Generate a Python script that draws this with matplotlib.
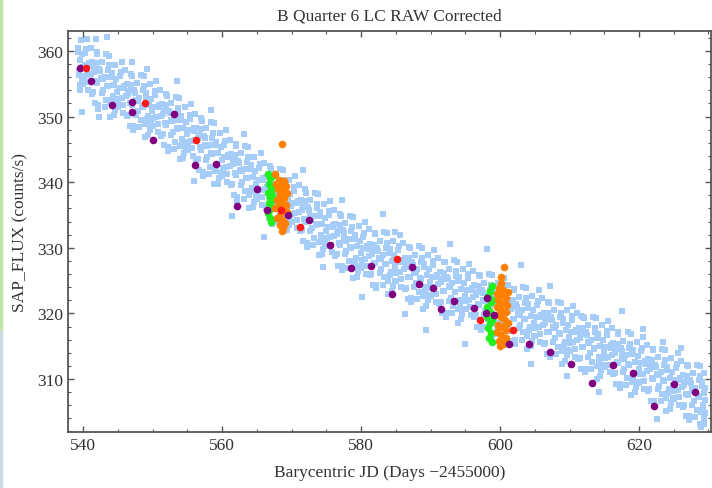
import matplotlib
matplotlib.use("Agg")
import matplotlib.pyplot as plt
from matplotlib.lines import Line2D
from matplotlib.ticker import MultipleLocator

# light blue raw light curve (core of the band)
blue_core = [
    (539.3,360.4),(539.4,356.9),(539.5,358.6),(539.6,354.8),(539.8,359.5),(539.95,357.6),
    (540.05,354.9),(540.25,357.9),(540.4,360.3),(540.55,356.3),(540.75,355.2),(540.9,358.2),
    (541.15,356.5),(541.3,358.3),(541.5,353.7),(541.65,357.3),(541.8,355.4),(541.97,359.9),
    (542.0,355.1),(542.2,351.8),(542.35,357.3),(542.6,355.9),(542.7,358.4),(542.88,354.1),
    (543.12,356.0),(543.28,352.6),(543.47,354.7),(543.62,357.1),(543.78,359.3),(543.93,352.0),
    (544.1,356.6),(544.3,353.1),(544.45,354.8),(544.6,351.0),(544.8,355.7),(544.95,353.8),
    (545.05,351.4),(545.25,354.4),(545.4,356.8),(545.55,352.8),(545.75,351.7),(545.9,354.7),
    (546.15,353.1),(546.3,354.9),(546.5,350.3),(546.65,353.9),(546.8,352.0),(546.97,356.5),
    (547.0,351.8),(547.2,348.5),(547.35,354.0),(547.6,352.6),(547.7,355.1),(547.88,350.8),
    (548.12,352.9),(548.28,349.5),(548.47,351.6),(548.62,354.0),(548.78,356.2),(548.93,348.9),
    (549.1,353.6),(549.3,350.1),(549.45,351.8),(549.6,348.0),(549.8,352.7),(549.95,350.8),
    (550.05,348.5),(550.25,351.5),(550.4,353.9),(550.55,349.9),(550.75,348.8),(550.9,351.8),
    (551.15,350.1),(551.3,351.9),(551.5,347.3),(551.65,350.9),(551.8,349.0),(551.97,353.5),
    (552.0,348.7),(552.2,345.4),(552.35,350.9),(552.6,349.5),(552.7,352.0),(552.88,347.7),
    (553.12,349.5),(553.28,346.1),(553.47,348.2),(553.62,350.6),(553.78,352.8),(553.93,345.5),
    (554.1,350.1),(554.3,346.6),(554.45,348.3),(554.6,344.5),(554.8,349.2),(554.95,347.3),
    (555.05,344.9),(555.25,347.9),(555.4,350.3),(555.55,346.3),(555.75,345.2),(555.9,348.2),
    (556.15,346.4),(556.3,348.2),(556.5,343.6),(556.65,347.2),(556.8,345.3),(556.97,349.8),
    (557.0,344.9),(557.2,341.6),(557.35,347.1),(557.6,345.7),(557.7,348.2),(557.88,343.9),
    (558.12,345.7),(558.28,342.3),(558.47,344.4),(558.62,346.8),(558.78,349.0),(558.93,341.7),
    (559.1,346.2),(559.3,342.7),(559.45,344.4),(559.6,340.6),(559.8,345.3),(559.95,343.4),
    (560.05,340.9),(560.25,343.9),(560.4,346.3),(560.55,342.3),(560.75,341.2),(560.9,344.2),
    (561.15,342.5),(561.3,344.3),(561.5,339.7),(561.65,343.3),(561.8,341.4),(561.97,345.9),
    (562.0,341.1),(562.2,337.8),(562.35,343.3),(562.6,341.9),(562.7,344.4),(562.88,340.1),
    (563.12,342.0),(563.28,338.6),(563.47,340.7),(563.62,343.1),(563.78,345.3),(563.93,338.0),
    (564.1,342.6),(564.3,339.1),(564.45,340.8),(564.6,337.0),(564.8,341.7),(564.95,339.8),
    (565.05,337.4),(565.25,340.4),(565.4,342.8),(565.55,338.8),(565.75,337.7),(565.9,340.7),
    (566.15,339.0),(566.3,340.8),(566.5,336.2),(566.65,339.8),(566.8,337.9),(566.97,342.4),
    (567.0,337.6),(567.2,334.3),(567.35,339.8),(567.6,338.4),(567.7,340.9),(567.88,336.6),
    (568.12,338.5),(568.28,335.1),(568.47,337.2),(568.62,339.6),(568.78,341.8),(568.93,334.5),
    (569.1,339.1),(569.3,335.6),(569.45,337.3),(569.6,333.5),(569.8,338.2),(569.95,336.3),
    (570.05,333.9),(570.25,336.9),(570.4,339.3),(570.55,335.3),(570.75,334.2),(570.9,337.2),
    (571.15,335.5),(571.3,337.3),(571.5,332.7),(571.65,336.3),(571.8,334.4),(571.97,338.9),
    (572.0,334.0),(572.2,330.7),(572.35,336.2),(572.6,334.8),(572.7,337.3),(572.88,333.0),
    (573.12,334.9),(573.28,331.5),(573.47,333.6),(573.62,336.0),(573.78,338.2),(573.93,330.9),
    (574.1,335.4),(574.3,331.9),(574.45,333.6),(574.6,329.8),(574.8,334.5),(574.95,332.6),
    (575.05,330.2),(575.25,333.2),(575.4,335.6),(575.55,331.6),(575.75,330.5),(575.9,333.5),
    (576.15,331.8),(576.3,333.6),(576.5,329.0),(576.65,332.6),(576.8,330.7),(576.97,335.2),
    (577.0,330.5),(577.2,327.2),(577.35,332.7),(577.6,331.3),(577.7,333.8),(577.88,329.5),
    (578.12,331.4),(578.28,328.0),(578.47,330.1),(578.62,332.5),(578.78,334.7),(578.93,327.4),
    (579.1,332.0),(579.3,328.5),(579.45,330.2),(579.6,326.4),(579.8,331.1),(579.95,329.2),
    (580.05,326.9),(580.25,329.9),(580.4,332.3),(580.55,328.3),(580.75,327.2),(580.9,330.2),
    (581.15,328.8),(581.3,330.6),(581.5,326.0),(581.65,329.6),(581.8,327.7),(581.97,332.2),
    (582.0,327.7),(582.2,324.4),(582.35,329.9),(582.6,328.5),(582.7,331.0),(582.88,326.7),
    (583.12,328.9),(583.28,325.5),(583.47,327.6),(583.62,330.0),(583.78,332.2),(583.93,324.9),
    (584.1,329.8),(584.3,326.3),(584.45,328.0),(584.6,324.2),(584.8,328.9),(584.95,327.0),
    (585.05,324.9),(585.25,327.9),(585.4,330.3),(585.55,326.3),(585.75,325.2),(585.9,328.2),
    (586.15,326.7),(586.3,328.5),(586.5,323.9),(586.65,327.5),(586.8,325.6),(586.97,330.1),
    (587.0,325.6),(587.2,322.3),(587.35,327.8),(587.6,326.4),(587.7,328.9),(587.88,324.6),
    (588.12,326.7),(588.28,323.3),(588.47,325.4),(588.62,327.8),(588.78,330.0),(588.93,322.7),
    (589.1,327.6),(589.3,324.1),(589.45,325.8),(589.6,322.0),(589.8,326.7),(589.95,324.8),
    (590.05,322.6),(590.25,325.6),(590.4,328.0),(590.55,324.0),(590.75,322.9),(590.9,325.9),
    (591.15,324.5),(591.3,326.3),(591.5,321.7),(591.65,325.3),(591.8,323.4),(591.97,327.9),
    (592.0,323.4),(592.2,320.1),(592.35,325.6),(592.6,324.2),(592.7,326.7),(592.88,322.4),
    (593.12,324.6),(593.28,321.2),(593.47,323.3),(593.62,325.7),(593.78,327.9),(593.93,320.6),
    (594.1,325.5),(594.3,322.0),(594.45,323.7),(594.6,319.9),(594.8,324.6),(594.95,322.7),
    (595.05,320.6),(595.25,323.6),(595.4,326.0),(595.55,322.0),(595.75,320.9),(595.9,323.9),
    (596.15,322.5),(596.3,324.3),(596.5,319.7),(596.65,323.3),(596.8,321.4),(596.97,325.9),
    (597.0,321.3),(597.2,318.0),(597.35,323.5),(597.6,322.1),(597.7,324.6),(597.88,320.3),
    (598.12,322.5),(598.28,319.1),(598.47,321.2),(598.62,323.6),(598.78,325.8),(598.93,318.5),
    (599.1,323.3),(599.3,319.8),(599.45,321.5),(599.6,317.7),(599.8,322.4),(599.95,320.5),
    (600.05,318.4),(600.25,321.4),(600.4,323.8),(600.55,319.8),(600.75,318.7),(600.9,321.7),
    (601.15,320.3),(601.3,322.1),(601.5,317.5),(601.65,321.1),(601.8,319.2),(601.97,323.7),
    (602.0,319.2),(602.2,315.9),(602.35,321.4),(602.6,320.0),(602.7,322.5),(602.88,318.2),
    (603.12,320.5),(603.28,317.1),(603.47,319.2),(603.62,321.6),(603.78,323.8),(603.93,316.5),
    (604.1,321.4),(604.3,317.9),(604.45,319.6),(604.6,315.8),(604.8,320.5),(604.95,318.6),
    (605.05,316.5),(605.25,319.5),(605.4,321.9),(605.55,317.9),(605.75,316.8),(605.9,319.8),
    (606.15,318.3),(606.3,320.1),(606.5,315.5),(606.65,319.1),(606.8,317.2),(606.97,321.7),
    (607.0,317.2),(607.2,313.9),(607.35,319.4),(607.6,318.0),(607.7,320.5),(607.88,316.2),
    (608.12,318.3),(608.28,314.9),(608.47,317.0),(608.62,319.4),(608.78,321.6),(608.93,314.3),
    (609.1,319.2),(609.3,315.7),(609.45,317.4),(609.6,313.6),(609.8,318.3),(609.95,316.4),
    (610.05,314.2),(610.25,317.2),(610.4,319.6),(610.55,315.6),(610.75,314.5),(610.9,317.5),
    (611.15,316.0),(611.3,317.8),(611.5,313.2),(611.65,316.8),(611.8,314.9),(611.97,319.4),
    (612.0,314.9),(612.2,311.6),(612.35,317.1),(612.6,315.7),(612.7,318.2),(612.88,313.9),
    (613.12,316.0),(613.28,312.6),(613.47,314.7),(613.62,317.1),(613.78,319.3),(613.93,312.0),
    (614.1,316.9),(614.3,313.4),(614.45,315.1),(614.6,311.3),(614.8,316.0),(614.95,314.1),
    (615.05,311.9),(615.25,314.9),(615.4,317.3),(615.55,313.3),(615.75,312.2),(615.9,315.2),
    (616.15,313.7),(616.3,315.5),(616.5,310.9),(616.65,314.5),(616.8,312.6),(616.97,317.1),
    (617.0,312.5),(617.2,309.2),(617.35,314.7),(617.6,313.3),(617.7,315.8),(617.88,311.5),
    (618.12,313.6),(618.28,310.2),(618.47,312.3),(618.62,314.7),(618.78,316.9),(618.93,309.6),
    (619.1,314.4),(619.3,310.9),(619.45,312.6),(619.6,308.8),(619.8,313.5),(619.95,311.6),
    (620.05,309.4),(620.25,312.4),(620.4,314.8),(620.55,310.8),(620.75,309.7),(620.9,312.7),
    (621.15,311.2),(621.3,313.0),(621.5,308.4),(621.65,312.0),(621.8,310.1),(621.97,314.6),
    (622.0,310.0),(622.2,306.7),(622.35,312.2),(622.6,310.8),(622.7,313.3),(622.88,309.0),
    (623.12,311.1),(623.28,307.7),(623.47,309.8),(623.62,312.2),(623.78,314.4),(623.93,307.1),
    (624.1,311.9),(624.3,308.4),(624.45,310.1),(624.6,306.3),(624.8,311.0),(624.95,309.1),
    (625.05,306.9),(625.25,309.9),(625.4,312.3),(625.55,308.3),(625.75,307.2),(625.9,310.2),
    (626.15,308.8),(626.3,310.6),(626.5,306.0),(626.65,309.6),(626.8,307.7),(626.97,312.2),
    (627.0,307.6),(627.2,304.3),(627.35,309.8),(627.6,308.4),(627.7,310.9),(627.88,306.6),
    (628.12,308.7),(628.28,305.3),(628.47,307.4),(628.62,309.8),(628.78,312.0),(628.93,305.0),
    (629.1,309.6),(629.2,306.1),(629.3,307.8),(629.4,304.0),(629.45,308.7),(629.5,306.8),
]

# light blue points towards the edges of the band
blue_edge = [
    (539.3,359.8),(539.4,356.4),(539.55,354.0),(539.7,361.7),(539.85,355.6),
    (540.08,356.2),(540.33,359.7),(540.55,361.9),(540.76,354.0),(540.96,357.8),
    (541.1,360.5),(541.26,353.5),(541.52,356.8),(541.7,352.0),(541.92,358.2),
    (542.05,359.5),(542.22,351.2),(542.5,356.9),(542.68,353.6),(542.85,355.7),
    (543.12,351.5),(543.35,359.5),(543.58,354.6),(543.72,357.8),(543.9,350.0),
    (544.02,356.0),(544.18,352.6),(544.42,350.2),(544.66,357.9),(544.83,351.8),
    (545.08,352.7),(545.33,356.2),(545.55,358.4),(545.76,350.5),(545.96,354.3),
    (546.1,357.1),(546.26,350.1),(546.52,353.4),(546.7,348.6),(546.92,354.8),
    (547.05,356.2),(547.22,347.9),(547.5,353.6),(547.68,350.3),(547.85,352.4),
    (548.12,348.4),(548.35,356.4),(548.58,351.5),(548.72,354.7),(548.9,346.9),
    (549.02,353.0),(549.18,349.6),(549.42,347.2),(549.66,354.9),(549.83,348.8),
    (550.08,349.8),(550.33,353.3),(550.55,355.5),(550.76,347.6),(550.96,351.4),
    (551.1,354.1),(551.26,347.1),(551.52,350.4),(551.7,345.6),(551.92,351.8),
    (552.05,353.1),(552.22,344.8),(552.5,350.5),(552.68,347.2),(552.85,349.3),
    (553.12,345.0),(553.35,353.0),(553.58,348.1),(553.72,351.3),(553.9,343.5),
    (554.02,349.5),(554.18,346.1),(554.42,343.7),(554.66,351.4),(554.83,345.3),
    (555.08,346.2),(555.33,349.7),(555.55,351.9),(555.76,344.0),(555.96,347.8),
    (556.1,350.4),(556.26,343.4),(556.52,346.7),(556.7,341.9),(556.92,348.1),
    (557.05,349.3),(557.22,341.0),(557.5,346.7),(557.68,343.4),(557.85,345.5),
    (558.12,341.2),(558.35,349.2),(558.58,344.3),(558.72,347.5),(558.9,339.7),
    (559.02,345.6),(559.18,342.2),(559.42,339.8),(559.66,347.5),(559.83,341.4),
    (560.08,342.2),(560.33,345.7),(560.55,347.9),(560.76,340.0),(560.96,343.8),
    (561.1,346.5),(561.26,339.5),(561.52,342.8),(561.7,338.0),(561.92,344.2),
    (562.05,345.5),(562.22,337.2),(562.5,342.9),(562.68,339.6),(562.85,341.7),
    (563.12,337.5),(563.35,345.5),(563.58,340.6),(563.72,343.8),(563.9,336.0),
    (564.02,342.0),(564.18,338.6),(564.42,336.2),(564.66,343.9),(564.83,337.8),
    (565.08,338.7),(565.33,342.2),(565.55,344.4),(565.76,336.5),(565.96,340.3),
    (566.1,343.0),(566.26,336.0),(566.52,339.3),(566.7,334.5),(566.92,340.7),
    (567.05,342.0),(567.22,333.7),(567.5,339.4),(567.68,336.1),(567.85,338.2),
    (568.12,334.0),(568.35,342.0),(568.58,337.1),(568.72,340.3),(568.9,332.5),
    (569.02,338.5),(569.18,335.1),(569.42,332.7),(569.66,340.4),(569.83,334.3),
    (570.08,335.2),(570.33,338.7),(570.55,340.9),(570.76,333.0),(570.96,336.8),
    (571.1,339.5),(571.26,332.5),(571.52,335.8),(571.7,331.0),(571.92,337.2),
    (572.05,338.4),(572.22,330.1),(572.5,335.8),(572.68,332.5),(572.85,334.6),
    (573.12,330.4),(573.35,338.4),(573.58,333.5),(573.72,336.7),(573.9,328.9),
    (574.02,334.8),(574.18,331.4),(574.42,329.0),(574.66,336.7),(574.83,330.6),
    (575.08,331.5),(575.33,335.0),(575.55,337.2),(575.76,329.3),(575.96,333.1),
    (576.1,335.8),(576.26,328.8),(576.52,332.1),(576.7,327.3),(576.92,333.5),
    (577.05,334.9),(577.22,326.6),(577.5,332.3),(577.68,329.0),(577.85,331.1),
    (578.12,326.9),(578.35,334.9),(578.58,330.0),(578.72,333.2),(578.9,325.4),
    (579.02,331.4),(579.18,328.0),(579.42,325.6),(579.66,333.3),(579.83,327.2),
    (580.08,328.2),(580.33,331.7),(580.55,333.9),(580.76,326.0),(580.96,329.8),
    (581.1,332.8),(581.26,325.8),(581.52,329.1),(581.7,324.3),(581.92,330.5),
    (582.05,332.1),(582.22,323.8),(582.5,329.5),(582.68,326.2),(582.85,328.3),
    (583.12,324.4),(583.35,332.4),(583.58,327.5),(583.72,330.7),(583.9,322.9),
    (584.02,329.2),(584.18,325.8),(584.42,323.4),(584.66,331.1),(584.83,325.0),
    (585.08,326.2),(585.33,329.7),(585.55,331.9),(585.76,324.0),(585.96,327.8),
    (586.1,330.7),(586.26,323.7),(586.52,327.0),(586.7,322.2),(586.92,328.4),
    (587.05,330.0),(587.22,321.7),(587.5,327.4),(587.68,324.1),(587.85,326.2),
    (588.12,322.2),(588.35,330.2),(588.58,325.3),(588.72,328.5),(588.9,320.7),
    (589.02,327.0),(589.18,323.6),(589.42,321.2),(589.66,328.9),(589.83,322.8),
    (590.08,323.9),(590.33,327.4),(590.55,329.6),(590.76,321.7),(590.96,325.5),
    (591.1,328.5),(591.26,321.5),(591.52,324.8),(591.7,320.0),(591.92,326.2),
    (592.05,327.8),(592.22,319.5),(592.5,325.2),(592.68,321.9),(592.85,324.0),
    (593.12,320.1),(593.35,328.1),(593.58,323.2),(593.72,326.4),(593.9,318.6),
    (594.02,324.9),(594.18,321.5),(594.42,319.1),(594.66,326.8),(594.83,320.7),
    (595.08,321.9),(595.33,325.4),(595.55,327.6),(595.76,319.7),(595.96,323.5),
    (596.1,326.5),(596.26,319.5),(596.52,322.8),(596.7,318.0),(596.92,324.2),
    (597.05,325.7),(597.22,317.4),(597.5,323.1),(597.68,319.8),(597.85,321.9),
    (598.12,318.0),(598.35,326.0),(598.58,321.1),(598.72,324.3),(598.9,316.5),
    (599.02,322.7),(599.18,319.3),(599.42,316.9),(599.66,324.6),(599.83,318.5),
    (600.08,319.7),(600.33,323.2),(600.55,325.4),(600.76,317.5),(600.96,321.3),
    (601.1,324.3),(601.26,317.3),(601.52,320.6),(601.7,315.8),(601.92,322.0),
    (602.05,323.6),(602.22,315.3),(602.5,321.0),(602.68,317.7),(602.85,319.8),
    (603.12,316.0),(603.35,324.0),(603.58,319.1),(603.72,322.3),(603.9,314.5),
    (604.02,320.8),(604.18,317.4),(604.42,315.0),(604.66,322.7),(604.83,316.6),
    (605.08,317.8),(605.33,321.3),(605.55,323.5),(605.76,315.6),(605.96,319.4),
    (606.1,322.3),(606.26,315.3),(606.52,318.6),(606.7,313.8),(606.92,320.0),
    (607.05,321.6),(607.22,313.3),(607.5,319.0),(607.68,315.7),(607.85,317.8),
    (608.12,313.8),(608.35,321.8),(608.58,316.9),(608.72,320.1),(608.9,312.3),
    (609.02,318.6),(609.18,315.2),(609.42,312.8),(609.66,320.5),(609.83,314.4),
    (610.08,315.5),(610.33,319.0),(610.55,321.2),(610.76,313.3),(610.96,317.1),
    (611.1,320.0),(611.26,313.0),(611.52,316.3),(611.7,311.5),(611.92,317.7),
    (612.05,319.3),(612.22,311.0),(612.5,316.7),(612.68,313.4),(612.85,315.5),
    (613.12,311.5),(613.35,319.5),(613.58,314.6),(613.72,317.8),(613.9,310.0),
    (614.02,316.3),(614.18,312.9),(614.42,310.5),(614.66,318.2),(614.83,312.1),
    (615.08,313.2),(615.33,316.7),(615.55,318.9),(615.76,311.0),(615.96,314.8),
    (616.1,317.7),(616.26,310.7),(616.52,314.0),(616.7,309.2),(616.92,315.4),
    (617.05,316.9),(617.22,308.6),(617.5,314.3),(617.68,311.0),(617.85,313.1),
    (618.12,309.1),(618.35,317.1),(618.58,312.2),(618.72,315.4),(618.9,307.6),
    (619.02,313.8),(619.18,310.4),(619.42,308.0),(619.66,315.7),(619.83,309.6),
    (620.08,310.7),(620.33,314.2),(620.55,316.4),(620.76,308.5),(620.96,312.3),
    (621.1,315.2),(621.26,308.2),(621.52,311.5),(621.7,306.7),(621.92,312.9),
    (622.05,314.4),(622.22,306.1),(622.5,311.8),(622.68,308.5),(622.85,310.6),
    (623.12,306.6),(623.35,314.6),(623.58,309.7),(623.72,312.9),(623.9,305.1),
    (624.02,311.3),(624.18,307.9),(624.42,305.5),(624.66,313.2),(624.83,307.1),
    (625.08,308.2),(625.33,311.7),(625.55,313.9),(625.76,306.0),(625.96,309.8),
    (626.1,312.8),(626.26,305.8),(626.52,309.1),(626.7,304.3),(626.92,310.5),
    (627.05,312.0),(627.22,303.7),(627.5,309.4),(627.68,306.1),(627.85,308.2),
    (628.12,304.2),(628.35,312.2),(628.58,307.3),(628.72,310.5),(628.9,302.7),
    (629.02,309.0),(629.18,305.6),(629.3,303.2),(629.4,310.9),(629.5,304.8),
]

# sparse light blue points lying outside the band
blue_stray = [
    (539.9,350.7),(542.3,349.9),(541.9,361.8),(543.4,362.2),(547.0,358.3),
    (549.2,357.3),(553.5,355.4),(556.0,340.2),(558.4,351.0),(563.1,347.3),
    (561.5,334.9),(566.0,331.6),(571.6,341.8),(574.5,327.0),(577.3,337.3),
    (583.2,335.2),(584.9,332.4),(580.2,322.5),(586.3,319.9),(589.4,317.4),
    (595.0,315.3),(592.8,330.6),(598.2,329.8),(603.0,327.4),(607.2,324.2),
    (611.7,319.6),(609.6,310.5),(614.3,308.0),(617.5,320.4),(620.6,317.6),
    (623.5,315.6),(622.6,303.9),(626.1,314.7),(628.8,303.1),(604.5,312.3),
]

purple_x = [539.5, 541.2, 544.2, 547.1, 547.1, 550.1, 553.1, 556.1, 559.1, 562.1,
            565.0, 566.5, 569.5, 572.5, 575.5, 578.5, 581.4, 584.4, 587.4, 588.4,
            590.4, 591.5, 593.4, 596.3, 598.2, 598.0, 599.2, 601.3, 604.2, 607.2,
            610.2, 613.2, 616.2, 619.1, 622.1, 625.1, 628.1]
purple_y = [357.4, 355.5, 351.8, 352.3, 350.7, 346.4, 350.4, 342.6, 342.8, 336.4,
            339.0, 335.8, 335.0, 334.2, 330.4, 326.9, 327.2, 323.0, 327.0, 324.5,
            323.9, 320.6, 321.9, 320.8, 322.3, 320.0, 319.8, 315.3, 315.3, 314.1,
            312.3, 309.4, 312.2, 310.9, 305.9, 309.2, 308.0]

red_x = [540.5, 548.9, 556.2, 568.5, 571.2, 585.2, 597.1, 601.8]
red_y = [357.4, 352.0, 346.4, 335.8, 333.1, 328.3, 319.0, 317.5]

green_x = [566.6, 566.9, 566.7, 567.0, 566.6, 566.9, 566.7, 567.0, 566.6, 566.9,
           567.1, 567.2, 567.2, 566.8, 567.1,
           598.9, 598.6, 598.3, 598.7, 598.2, 598.5, 598.1, 598.6, 598.3, 598.7,
           598.4, 598.8, 598.9, 598.9]
green_y = [341.3, 340.6, 339.8, 339.0, 338.3, 337.6, 336.8, 336.0, 335.3, 334.6,
           334.0, 341.0, 338.0, 335.7, 337.2,
           324.2, 323.4, 322.6, 321.8, 321.0, 320.2, 319.4, 318.6, 317.8, 317.0,
           316.3, 315.6, 322.0, 319.0]

orange_x = [568.2, 568.9, 568.5, 569.2, 568.0, 568.7, 569.3, 568.3, 568.9, 567.9,
            568.6, 569.2, 568.1, 568.8, 569.3, 568.4, 567.9, 568.7, 569.1, 568.3,
            568.8, 568.6, 567.6, 567.7, 567.6, 568.6,
            600.1, 600.2, 599.8, 600.5, 599.5, 600.2, 600.8, 599.7, 600.4, 601.0,
            599.6, 600.2, 600.8, 599.4, 600.1, 600.7, 601.1, 599.7, 600.3, 600.9,
            599.5, 600.2, 600.8, 599.9, 600.5, 600.0, 601.1, 600.6]
orange_y = [340.3, 340.2, 339.6, 339.4, 338.9, 338.7, 338.3, 338.0, 337.6, 337.3,
            336.9, 336.6, 336.2, 335.7, 335.4, 335.0, 334.5, 334.3, 333.8, 333.5,
            333.0, 332.6, 341.2, 339.8, 336.0, 345.8,
            325.6, 324.6, 323.9, 323.6, 323.0, 322.8, 322.4, 322.0, 321.6, 321.3,
            320.9, 320.5, 320.2, 319.8, 319.4, 319.0, 318.6, 318.3, 317.9, 317.5,
            317.1, 316.7, 316.3, 315.8, 315.3, 315.0, 323.2, 327.1]

plt.rcParams["font.family"] = ["Liberation Serif", "DejaVu Serif"]
text_col = "#333333"
frame_col = "#555555"

fig = plt.figure(figsize=(7.12, 4.89), dpi=100)
ax = fig.add_axes([68 / 712, 1 - 433 / 489, 643 / 712, 401 / 489])

blue_pts = blue_core + blue_edge + blue_stray
bx = [p[0] for p in blue_pts]
by = [p[1] for p in blue_pts]
ax.scatter(bx, by, s=16, marker="s", color="#a6cdf8", linewidths=0)
ax.scatter(green_x, green_y, s=30, color="#22ee22", linewidths=0)
ax.scatter(orange_x, orange_y, s=30, color="#ff8000", linewidths=0)
ax.scatter(purple_x, purple_y, s=30, color="#800080", linewidths=0)
ax.scatter(red_x, red_y, s=30, color="#ff1a1a", linewidths=0)

ax.set_xlim(537.84, 630.36)
ax.set_ylim(301.92, 363.05)
ax.xaxis.set_major_locator(MultipleLocator(20))
ax.xaxis.set_minor_locator(MultipleLocator(5))
ax.yaxis.set_major_locator(MultipleLocator(10))
ax.yaxis.set_minor_locator(MultipleLocator(2))
ax.tick_params(which="both", direction="in", top=True, right=True,
               color=frame_col, labelcolor=text_col, labelsize=12.5)
ax.tick_params(which="major", length=4, width=1)
ax.tick_params(which="minor", length=2, width=0.8)
for sp in ax.spines.values():
    sp.set_color(frame_col)
    sp.set_linewidth(1.3)

ax.set_title("B Quarter 6 LC RAW Corrected", fontsize=12.5, color=text_col, pad=8)
ax.set_xlabel("Barycentric JD (Days \u22122455000)", fontsize=12.5, color=text_col, labelpad=8)
ax.set_ylabel("SAP_FLUX (counts/s)", fontsize=12.5, color=text_col, labelpad=6)

# thin coloured strip on the left border of the picture
fig.add_artist(Line2D([0.002, 0.002], [1.0, 0.32], transform=fig.transFigure,
                      color="#bfe5a8", linewidth=2.5))
fig.add_artist(Line2D([0.002, 0.002], [0.32, 0.0], transform=fig.transFigure,
                      color="#c8dbe6", linewidth=2.5))

fig.savefig("out.png", dpi=100)
